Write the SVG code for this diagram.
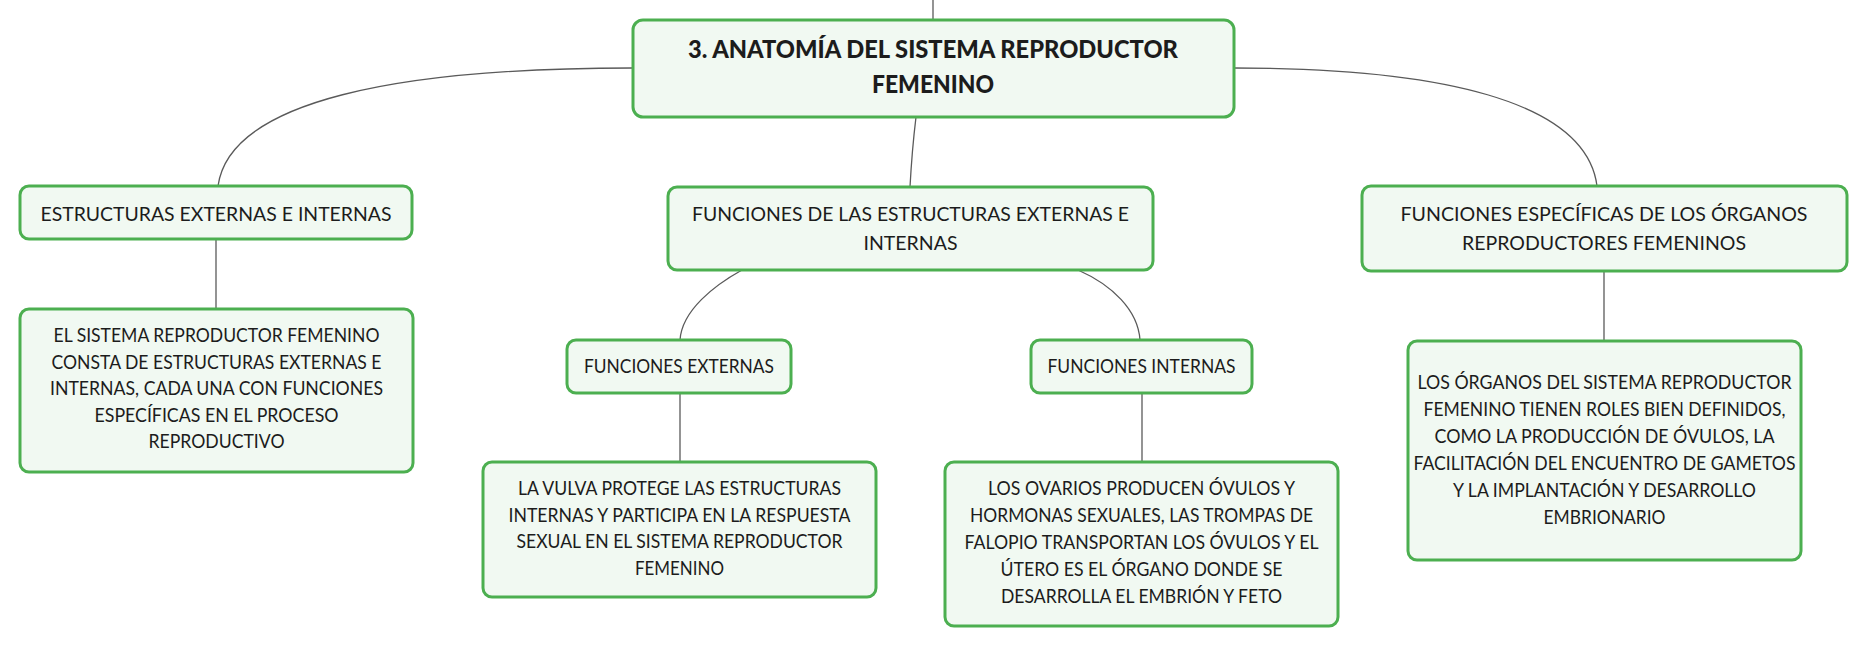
<svg xmlns="http://www.w3.org/2000/svg" width="1868" height="646" viewBox="0 0 1868 646">
<style>
.box{fill:#f1f9f2;stroke:#4caf50;stroke-width:3}
.t{font-family:Lato,"Noto Sans","Liberation Sans",sans-serif;font-size:19px;fill:#1c1c1c;text-anchor:middle}
.title{font-family:Lato,"Noto Sans","Liberation Sans",sans-serif;font-size:24px;font-weight:900;fill:#1c1c1c;text-anchor:middle}
.c{fill:none;stroke:#5a5a5a;stroke-width:1.3}
</style>
<rect width="1868" height="646" fill="#ffffff"/>
<g id="connectors">
<path class="c" d="M933,0 V20"/>
<path class="c" d="M632,68 C400,68 230,100 218,186"/>
<path class="c" d="M916,117 Q912,150 910,187"/>
<path class="c" d="M1234,68 C1437,68 1586,100 1597,186"/>
<path class="c" d="M216,239 V309"/>
<path class="c" d="M742,270 C715,285 682,310 680,340"/>
<path class="c" d="M1078,270 C1112,285 1138,310 1140,340"/>
<path class="c" d="M680,393 V462"/>
<path class="c" d="M1142,393 V462"/>
<path class="c" d="M1604,271 V341"/>
</g>
<g id="main">
<rect class="box" x="633" y="20" width="601" height="97" rx="10"/>
<text class="title" x="933" y="58" textLength="490" lengthAdjust="spacingAndGlyphs">3. ANATOMÍA DEL SISTEMA REPRODUCTOR</text>
<text class="title" x="933" y="93" textLength="122" lengthAdjust="spacingAndGlyphs">FEMENINO</text>
</g>
<g id="estructuras">
<rect class="box" x="20" y="186" width="392" height="53" rx="9"/>
<text class="t" x="216" y="221" textLength="351" lengthAdjust="spacingAndGlyphs">ESTRUCTURAS EXTERNAS E INTERNAS</text>
</g>
<g id="estructuras-desc">
<rect class="box" x="20" y="309" width="393" height="163" rx="9"/>
<text class="t" x="216.5" y="342" textLength="326" lengthAdjust="spacingAndGlyphs">EL SISTEMA REPRODUCTOR FEMENINO</text>
<text class="t" x="216.5" y="369" textLength="330" lengthAdjust="spacingAndGlyphs">CONSTA DE ESTRUCTURAS EXTERNAS E</text>
<text class="t" x="216.5" y="395" textLength="333" lengthAdjust="spacingAndGlyphs">INTERNAS, CADA UNA CON FUNCIONES</text>
<text class="t" x="216.5" y="422" textLength="244" lengthAdjust="spacingAndGlyphs">ESPECÍFICAS EN EL PROCESO</text>
<text class="t" x="216.5" y="448" textLength="136" lengthAdjust="spacingAndGlyphs">REPRODUCTIVO</text>
</g>
<g id="funciones">
<rect class="box" x="668" y="187" width="485" height="83" rx="9"/>
<text class="t" x="910.5" y="221" textLength="437" lengthAdjust="spacingAndGlyphs">FUNCIONES DE LAS ESTRUCTURAS EXTERNAS E</text>
<text class="t" x="910.5" y="250" textLength="94" lengthAdjust="spacingAndGlyphs">INTERNAS</text>
</g>
<g id="externas">
<rect class="box" x="567" y="340" width="224" height="53" rx="9"/>
<text class="t" x="679" y="373" textLength="190" lengthAdjust="spacingAndGlyphs">FUNCIONES EXTERNAS</text>
</g>
<g id="externas-desc">
<rect class="box" x="483" y="462" width="393" height="135" rx="9"/>
<text class="t" x="679.5" y="495" textLength="323" lengthAdjust="spacingAndGlyphs">LA VULVA PROTEGE LAS ESTRUCTURAS</text>
<text class="t" x="679.5" y="522" textLength="342" lengthAdjust="spacingAndGlyphs">INTERNAS Y PARTICIPA EN LA RESPUESTA</text>
<text class="t" x="679.5" y="548" textLength="326" lengthAdjust="spacingAndGlyphs">SEXUAL EN EL SISTEMA REPRODUCTOR</text>
<text class="t" x="679.5" y="575" textLength="89" lengthAdjust="spacingAndGlyphs">FEMENINO</text>
</g>
<g id="internas">
<rect class="box" x="1031" y="340" width="221" height="53" rx="9"/>
<text class="t" x="1141.5" y="373" textLength="188" lengthAdjust="spacingAndGlyphs">FUNCIONES INTERNAS</text>
</g>
<g id="internas-desc">
<rect class="box" x="945" y="462" width="393" height="164" rx="9"/>
<text class="t" x="1141.5" y="495" textLength="307" lengthAdjust="spacingAndGlyphs">LOS OVARIOS PRODUCEN ÓVULOS Y</text>
<text class="t" x="1141.5" y="522" textLength="343" lengthAdjust="spacingAndGlyphs">HORMONAS SEXUALES, LAS TROMPAS DE</text>
<text class="t" x="1141.5" y="549" textLength="354" lengthAdjust="spacingAndGlyphs">FALOPIO TRANSPORTAN LOS ÓVULOS Y EL</text>
<text class="t" x="1141.5" y="576" textLength="282" lengthAdjust="spacingAndGlyphs">ÚTERO ES EL ÓRGANO DONDE SE</text>
<text class="t" x="1141.5" y="603" textLength="281" lengthAdjust="spacingAndGlyphs">DESARROLLA EL EMBRIÓN Y FETO</text>
</g>
<g id="organos">
<rect class="box" x="1362" y="186" width="485" height="85" rx="9"/>
<text class="t" x="1604" y="221" textLength="407" lengthAdjust="spacingAndGlyphs">FUNCIONES ESPECÍFICAS DE LOS ÓRGANOS</text>
<text class="t" x="1604" y="250" textLength="284" lengthAdjust="spacingAndGlyphs">REPRODUCTORES FEMENINOS</text>
</g>
<g id="organos-desc">
<rect class="box" x="1408" y="341" width="393" height="219" rx="9"/>
<text class="t" x="1604.5" y="389" textLength="374" lengthAdjust="spacingAndGlyphs">LOS ÓRGANOS DEL SISTEMA REPRODUCTOR</text>
<text class="t" x="1604.5" y="416" textLength="362" lengthAdjust="spacingAndGlyphs">FEMENINO TIENEN ROLES BIEN DEFINIDOS,</text>
<text class="t" x="1604.5" y="443" textLength="340" lengthAdjust="spacingAndGlyphs">COMO LA PRODUCCIÓN DE ÓVULOS, LA</text>
<text class="t" x="1604.5" y="470" textLength="382" lengthAdjust="spacingAndGlyphs">FACILITACIÓN DEL ENCUENTRO DE GAMETOS</text>
<text class="t" x="1604.5" y="497" textLength="303" lengthAdjust="spacingAndGlyphs">Y LA IMPLANTACIÓN Y DESARROLLO</text>
<text class="t" x="1604.5" y="524" textLength="122" lengthAdjust="spacingAndGlyphs">EMBRIONARIO</text>
</g>
</svg>
